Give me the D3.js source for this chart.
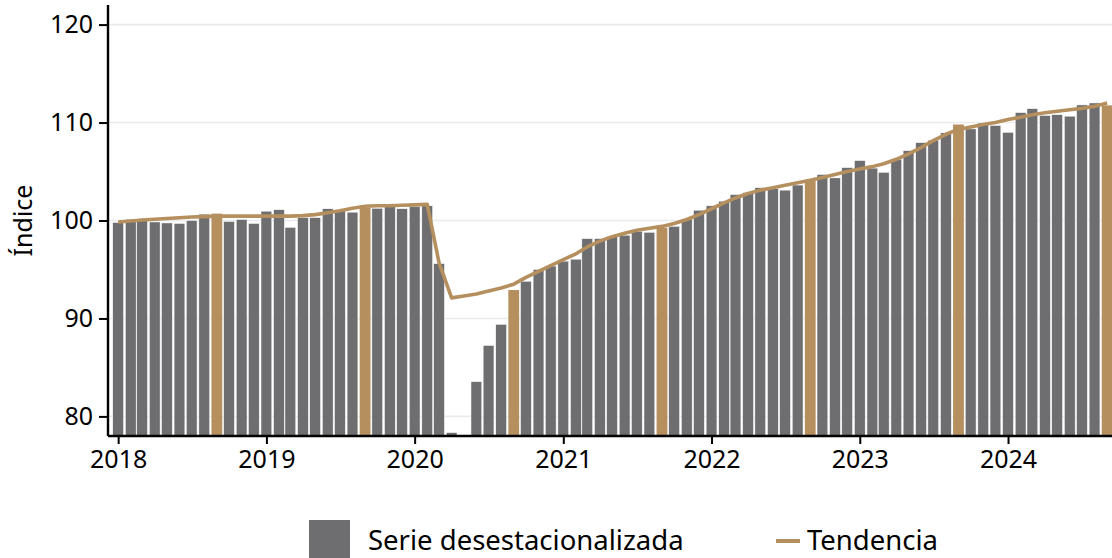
<!DOCTYPE html>
<html>
<head>
<meta charset="utf-8">
<script src="https://cdn.jsdelivr.net/npm/d3@7"></script>
<style>
html,body{margin:0;padding:0;background:#fff;}
svg{display:block;}
text{font-family:"Noto Sans",sans-serif;fill:#000;}
</style>
</head>
<body>
<svg id="chart" width="1112" height="558"></svg>
<script>
// Months: Jan 2018 .. Sep 2024
const startMonth = "2018-01-01";
const endMonth = "2024-09-01";
const highlightMonth = 8; // September

const serie = [
  // 2018
  99.8, 100.1, 100.15, 99.85, 99.75, 99.7, 100.0, 100.65, 100.7, 99.9, 100.1, 99.7,
  // 2019
  100.95, 101.1, 99.3, 100.3, 100.3, 101.2, 101.05, 100.85, 101.3, 101.25, 101.6, 101.2,
  // 2020
  101.4, 101.5, 95.6, 78.35, 76.5, 83.55, 87.25, 89.4, 92.9, 93.8, 95.0, 95.35,
  // 2021
  95.85, 96.05, 98.15, 98.15, 98.35, 98.5, 98.9, 98.8, 99.25, 99.4, 100.15, 101.05,
  // 2022
  101.5, 101.97, 102.65, 102.85, 103.35, 103.25, 103.1, 103.62, 104.15, 104.7, 104.35, 105.4,
  // 2023
  106.12, 105.35, 104.92, 106.25, 107.13, 107.95, 108.2, 108.95, 109.8, 109.35, 109.95, 109.7,
  // 2024
  109.0, 111.02, 111.42, 110.72, 110.8, 110.65, 111.8, 112.0, 111.75
];

const tendencia = [
  // 2018
  99.85, 99.95, 100.05, 100.12, 100.2, 100.28, 100.35, 100.4, 100.45, 100.45, 100.45, 100.45,
  // 2019
  100.45, 100.45, 100.45, 100.5, 100.6, 100.8, 101.0, 101.25, 101.45, 101.5, 101.5, 101.55,
  // 2020
  101.6, 101.65, 95.7, 92.1, 92.3, 92.5, 92.8, 93.1, 93.5, 94.2, 94.8, 95.4,
  // 2021
  96.0, 96.6, 97.3, 97.9, 98.35, 98.7, 99.0, 99.2, 99.4, 99.7, 100.1, 100.6,
  // 2022
  101.2, 101.8, 102.3, 102.75, 103.1, 103.35, 103.6, 103.85, 104.1, 104.4, 104.7, 105.0,
  // 2023
  105.25, 105.5, 105.8, 106.25, 106.8, 107.45, 108.15, 108.8, 109.3, 109.55, 109.8, 110.0,
  // 2024
  110.3, 110.55, 110.8, 111.0, 111.15, 111.3, 111.45, 111.65, 112.0
];

const yTicks = [80, 90, 100, 110, 120];
const xTickYears = [2018, 2019, 2020, 2021, 2022, 2023, 2024];
const yTitle = "Índice";
const legendLabels = ["Serie desestacionalizada", "Tendencia"];

const colBar = "#6e6e70";
const colTan = "#b58f5e";

const parse = d3.utcParse("%Y-%m-%d");
const months = d3.utcMonth.range(parse(startMonth), d3.utcMonth.offset(parse(endMonth), 1));
const data = months.map((d, i) => ({date: d, v: serie[i], t: tendencia[i]}));

const svg = d3.select("#chart");
const mLeft = 108, mRight = 1112, mTop = 5, mBottom = 436;

const x = d3.scaleUtc()
  .domain([parse("2017-12-07"), parse("2024-09-13")])
  .range([mLeft, mRight]);
const y = d3.scaleLinear().domain([78, 122]).range([mBottom, mTop]);

svg.append("defs").append("clipPath").attr("id", "clip")
  .append("rect").attr("x", mLeft).attr("y", mTop).attr("width", mRight - mLeft).attr("height", mBottom - mTop);

// gridlines
svg.append("g").selectAll("line").data(yTicks).join("line")
  .attr("x1", mLeft).attr("x2", mRight)
  .attr("y1", d => y(d)).attr("y2", d => y(d))
  .attr("stroke", "#ebebeb").attr("stroke-width", 1.6);

const barW = 10.8;
const plot = svg.append("g").attr("clip-path", "url(#clip)");
plot.selectAll("rect.bar").data(data).join("rect")
  .attr("class", "bar")
  .attr("x", d => x(d.date) - barW / 2)
  .attr("width", barW)
  .attr("y", d => y(d.v))
  .attr("height", d => Math.max(0, y(0) - y(d.v)))
  .attr("fill", d => d.date.getUTCMonth() === highlightMonth ? colTan : colBar)
  .attr("stroke", d => d.date.getUTCMonth() === highlightMonth ? "none" : "#ffffff")
  .attr("stroke-width", 0.5);

const line = d3.line().x(d => x(d.date)).y(d => y(d.t));
plot.append("path").datum(data)
  .attr("d", line)
  .attr("fill", "none")
  .attr("stroke", colTan)
  .attr("stroke-width", 3.6)
  .attr("stroke-linejoin", "round");

// Y axis
const yAxis = svg.append("g").attr("transform", `translate(${mLeft},0)`)
  .call(d3.axisLeft(y).tickValues(yTicks).tickSize(9).tickPadding(6));
yAxis.select(".domain").attr("stroke", "#000").attr("stroke-width", 2.4).attr("d", `M0,${mTop}V${mBottom}`);
yAxis.selectAll(".tick line").attr("stroke", "#000").attr("stroke-width", 2);
yAxis.selectAll(".tick text").style("font-size", "25px").style("font-family", "'Noto Sans',sans-serif").attr("fill", "#000");

// X axis
const xAxis = svg.append("g").attr("transform", `translate(0,${mBottom})`)
  .call(d3.axisBottom(x).tickValues(xTickYears.map(yr => new Date(Date.UTC(yr, 0, 1))))
    .tickFormat(d3.utcFormat("%Y")).tickSize(8).tickPadding(6));
xAxis.select(".domain").attr("stroke", "#000").attr("stroke-width", 2.4).attr("d", `M${mLeft},0H${mRight}`);
xAxis.selectAll(".tick line").attr("stroke", "#000").attr("stroke-width", 2);
xAxis.selectAll(".tick text").style("font-size", "25px").style("font-family", "'Noto Sans',sans-serif").attr("fill", "#000");

// Y title
svg.append("text")
  .attr("transform", `translate(32,${(mTop + mBottom) / 2}) rotate(-90)`)
  .attr("text-anchor", "middle")
  .style("font-size", "25px")
  .text(yTitle);

// Legend
const lg = svg.append("g");
lg.append("rect").attr("x", 309).attr("y", 520).attr("width", 41).attr("height", 41).attr("fill", colBar);
lg.append("text").attr("x", 368).attr("y", 550).style("font-size", "27.5px").text(legendLabels[0]);
lg.append("line").attr("x1", 776).attr("x2", 800).attr("y1", 541).attr("y2", 541)
  .attr("stroke", colTan).attr("stroke-width", 4);
lg.append("text").attr("x", 807).attr("y", 550).style("font-size", "27.5px").text(legendLabels[1]);
</script>
</body>
</html>
